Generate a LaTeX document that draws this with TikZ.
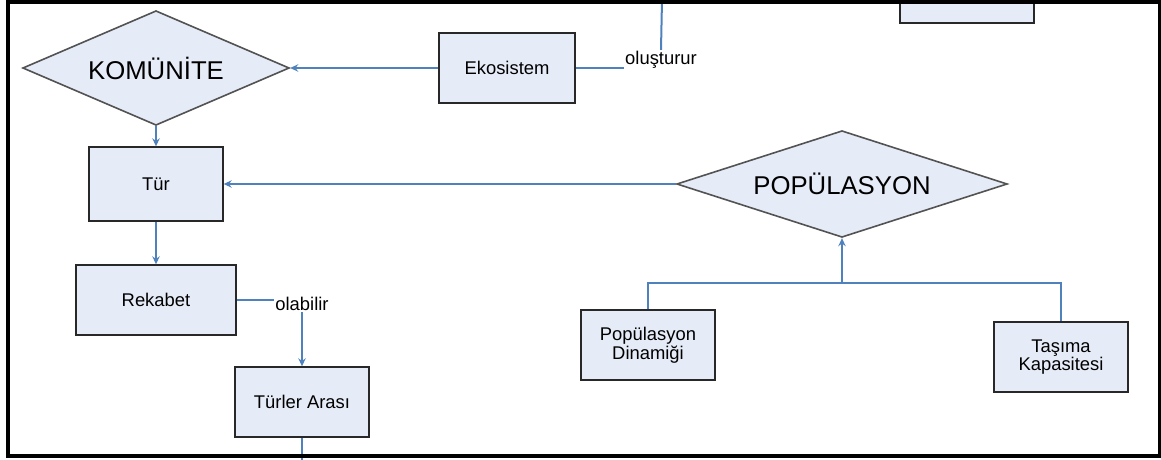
\documentclass[tikz,border=0pt]{standalone}
\usepackage{fontspec}
\setmainfont{Liberation Sans}
\usepackage{xcolor}
\definecolor{mavi}{RGB}{79, 129, 189}
\definecolor{acikMavi}{RGB}{230, 236, 247}
\definecolor{koyuGri}{RGB}{40, 40, 40}
\usepackage{tikz}
\usetikzlibrary{arrows,arrows.meta,shapes,calc,positioning}
\tikzstyle{edge}  =[>={Stealth[length=6pt,width=5.5pt]}, line width=1.5pt, mavi]
\tikzstyle{kutu}  =[rectangle, draw=koyuGri, fill=acikMavi,
                    line width=1.5pt, inner sep=2pt, align=center,
                    font=\fontsize{13.8}{13}\selectfont]
\tikzstyle{karar} =[diamond, draw=koyuGri!80, fill=acikMavi,
                    line width=1.2pt, inner sep=0pt,
                    font=\fontsize{19.3}{22}\selectfont]
\tikzstyle{etiket}=[inner sep=1pt, font=\fontsize{13.8}{15}\selectfont]

\begin{document}
\begin{tikzpicture}[x=0.75pt,y=-0.75pt]

        \useasboundingbox (0,0) rectangle (1161,460);
        \clip (0,0) rectangle (1161,460);

        % diamonds
        \draw (156,68) node(komunite)[karar,aspect=2.3,minimum width=200pt,minimum height=86pt]{KOMÜNİTE};
        \draw (842,184) node(pop)[karar,aspect=3.1,minimum width=248pt,minimum height=80pt]{POPÜLASYON};

        % boxes
        \draw (507,68) node(eko)[kutu,minimum width=102pt,minimum height=52pt]{Ekosistem};
        \draw (967,-10) node(ust)[kutu,minimum width=100pt,minimum height=50pt]{};
        \draw (156,184) node(tur)[kutu,minimum width=100pt,minimum height=55pt]{Tür};
        \draw (156,300) node(rek)[kutu,minimum width=120pt,minimum height=52pt]{Rekabet};
        \draw (302,402) node(tra)[kutu,minimum width=100pt,minimum height=52pt]{Türler Arası};
        \draw (648,345) node(popdin)[kutu,minimum width=100pt,minimum height=52pt]{Popülasyon\\Dinamiği};
        \draw (1061,357) node(tasima)[kutu,minimum width=100pt,minimum height=52pt]{Taşıma\\Kapasitesi};

        % labels
        \draw (661,60) node(olus)[etiket]{oluşturur};
        \draw (302,304) node(olab)[etiket]{olabilir};

        \coordinate (ustUc) at (662,0);
        \coordinate (altUc) at (302,460);
        \coordinate (birles) at (842,283);

        \foreach \i/\j in {eko/komunite,komunite/tur,tur/rek,pop/tur,olab/tra}
            \draw [edge,->] (\i) to (\j);

        \draw [edge] (eko.east) -- (eko.east -| olus.west);
        \draw [edge] (ustUc) -- (olus.north);
        \draw [edge] (rek.east) -- (rek.east -| olab.west);
        \draw [edge] (tra.south) -- (altUc);
        \draw [edge] (popdin.north) |- (birles) -| (tasima.north);
        \draw [edge,->] (birles) -- (pop.south);

        % frame
        \draw [line width=3pt] (8,2) rectangle (1159.5,455.5);

    \end{tikzpicture}
\end{document}
